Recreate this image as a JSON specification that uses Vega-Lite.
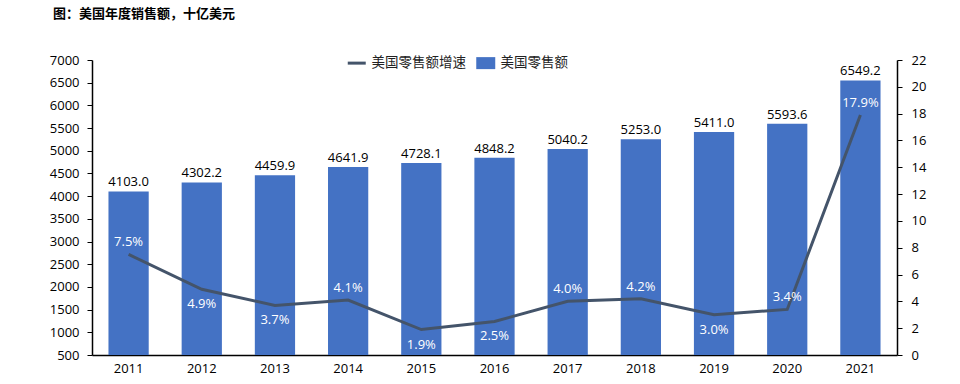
{
  "$schema": "https://vega.github.io/schema/vega-lite/v6.json",
  "width": 805,
  "height": 295,
  "autosize": {"type": "none"},
  "padding": {"left": 92, "top": 60, "right": 63, "bottom": 29},
  "background": "white",
  "title": {
    "text": "图：美国年度销售额，十亿美元",
    "anchor": "start",
    "frame": "group",
    "dx": -39,
    "offset": 33,
    "fontSize": 13,
    "fontWeight": "bold",
    "font": "Noto Sans CJK SC",
    "color": "#000000"
  },
  "config": {
    "view": {"stroke": null},
    "font": "Open Sans",
    "axis": {
      "labelFont": "Open Sans",
      "labelFontSize": 13,
      "labelColor": "#000000",
      "domainColor": "#000000",
      "tickColor": "#000000",
      "labelOverlap": false,
      "labelBound": false,
      "grid": false,
      "title": null
    },
    "legend": {
      "labelFont": "Noto Sans CJK SC",
      "labelFontSize": 13.5,
      "labelColor": "#222222"
    }
  },
  "data": {
    "values": [
      {"year": "2011", "sales": 4103.0, "growth": 7.5},
      {"year": "2012", "sales": 4302.2, "growth": 4.9},
      {"year": "2013", "sales": 4459.9, "growth": 3.7},
      {"year": "2014", "sales": 4641.9, "growth": 4.1},
      {"year": "2015", "sales": 4728.1, "growth": 1.9},
      {"year": "2016", "sales": 4848.2, "growth": 2.5},
      {"year": "2017", "sales": 5040.2, "growth": 4.0},
      {"year": "2018", "sales": 5253.0, "growth": 4.2},
      {"year": "2019", "sales": 5411.0, "growth": 3.0},
      {"year": "2020", "sales": 5593.6, "growth": 3.4},
      {"year": "2021", "sales": 6549.2, "growth": 17.9}
    ]
  },
  "encoding": {
    "x": {
      "field": "year",
      "type": "ordinal",
      "scale": {"paddingInner": 0.45, "paddingOuter": 0.225},
      "axis": {"labelAngle": 0, "tickSize": 0, "labelPadding": 7, "domainWidth": 1.5}
    }
  },
  "layer": [
    {
      "encoding": {
        "y": {
          "field": "sales",
          "type": "quantitative",
          "scale": {"domain": [500, 7000], "zero": false, "nice": false},
          "axis": {
            "values": [500, 1000, 1500, 2000, 2500, 3000, 3500, 4000, 4500, 5000, 5500, 6000, 6500, 7000],
            "format": "d",
            "tickSize": 5,
            "labelPadding": 8,
            "domainWidth": 1.5
          }
        }
      },
      "layer": [
        {
          "mark": {"type": "bar", "fill": "#4472C4"},
          "encoding": {
            "y2": {"datum": 500},
            "color": {
              "datum": "美国零售额",
              "scale": {"domain": ["美国零售额增速", "美国零售额"], "range": ["#44546A", "#4472C4"]},
              "legend": {
                "title": null,
                "orient": "none",
                "legendX": 258,
                "legendY": -4,
                "direction": "horizontal",
                "symbolSize": 100,
                "columnPadding": 10,
                "labelOffset": 8,
                "encode": {
                  "symbols": {
                    "update": {
                      "shape": {"signal": "datum.value == '美国零售额增速' ? 'M-1.8,0L1.8,0' : 'M-1.9,-1.2L1.9,-1.2L1.9,1.2L-1.9,1.2Z'"},
                      "strokeWidth": {"signal": "datum.value == '美国零售额增速' ? 3 : 0"},
                      "stroke": {"signal": "datum.value == '美国零售额增速' ? '#44546A' : '#4472C4'"},
                      "fill": {"signal": "datum.value == '美国零售额增速' ? 'transparent' : '#4472C4'"}
                    }
                  }
                }
              }
            }
          }
        },
        {
          "mark": {"type": "text", "baseline": "bottom", "dy": -2, "fontSize": 13, "color": "#000000"},
          "encoding": {
            "text": {"field": "sales", "type": "quantitative", "format": ".1f"}
          }
        }
      ]
    },
    {
      "encoding": {
        "y": {
          "field": "growth",
          "type": "quantitative",
          "scale": {"domain": [0, 22], "nice": false},
          "axis": {
            "orient": "right",
            "values": [0, 2, 4, 6, 8, 10, 12, 14, 16, 18, 20, 22],
            "tickSize": 5,
            "labelPadding": 9,
            "domainWidth": 1.5
          }
        }
      },
      "layer": [
        {
          "mark": {"type": "line", "strokeWidth": 3, "color": "#44546A"},
          "encoding": {
            "color": {"datum": "美国零售额增速"}
          }
        },
        {
          "transform": [
            {"filter": "indexof(['2012','2013','2015','2016','2019'], datum.year) < 0"},
            {"calculate": "format(datum.growth, '.1f') + '%'", "as": "label"}
          ],
          "mark": {"type": "text", "baseline": "middle", "dy": -12, "fontSize": 13, "color": "#FFFFFF"},
          "encoding": {
            "text": {"field": "label"}
          }
        },
        {
          "transform": [
            {"filter": "indexof(['2012','2013','2015','2016','2019'], datum.year) >= 0"},
            {"calculate": "format(datum.growth, '.1f') + '%'", "as": "label"}
          ],
          "mark": {"type": "text", "baseline": "middle", "dy": 15, "fontSize": 13, "color": "#FFFFFF"},
          "encoding": {
            "text": {"field": "label"}
          }
        }
      ]
    }
  ],
  "resolve": {"scale": {"y": "independent"}}
}
